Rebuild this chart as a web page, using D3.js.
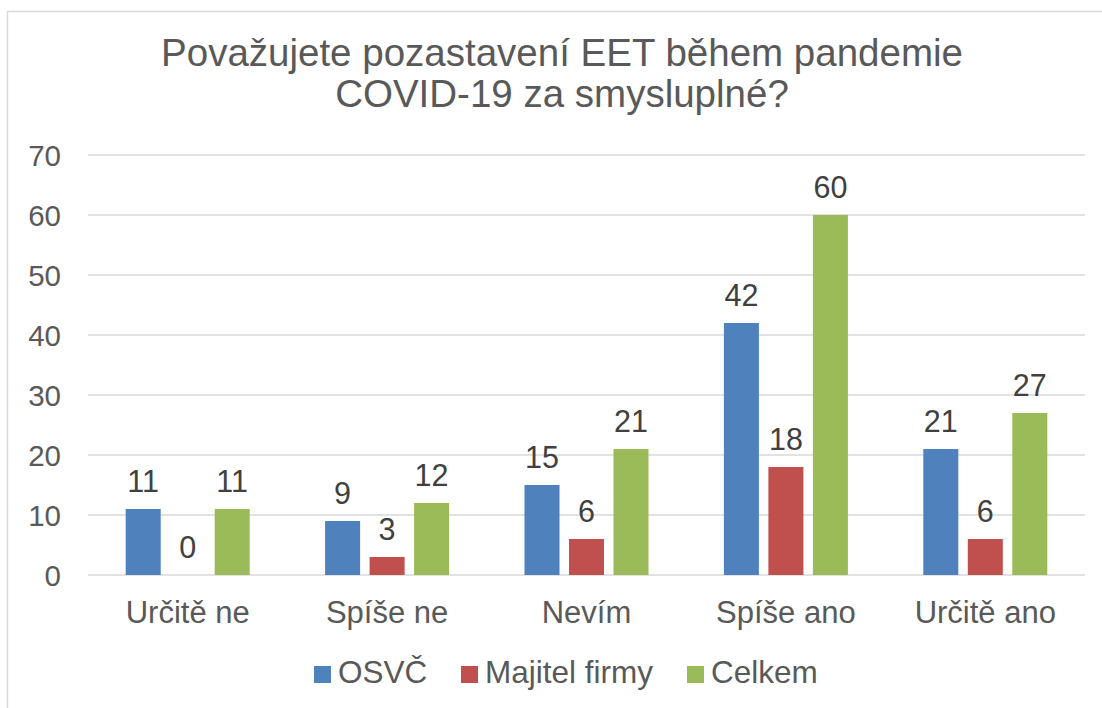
<!DOCTYPE html>
<html>
<head>
<meta charset="utf-8">
<script src="https://cdn.jsdelivr.net/npm/d3@7"></script>
<style>
  body { margin: 0; background: #fff; }
  text { font-family: "Liberation Sans", Arial, sans-serif; }
</style>
</head>
<body>
<script>
// ---------------------- DATA ----------------------

const categories = ["Určitě ne", "Spíše ne", "Nevím", "Spíše ano", "Určitě ano"];
const seriesNames = ["OSVČ", "Majitel firmy", "Celkem"];
const osvc = [11, 9, 15, 42, 21];
const majitel = [0, 3, 6, 18, 6];
const celkem = [11, 12, 21, 60, 27];
const yTicks = [0, 10, 20, 30, 40, 50, 60, 70];
const titleLines = ["Považujete pozastavení EET během pandemie", "COVID-19 za smysluplné?"];

const seriesValues = [osvc, majitel, celkem];
const colors = ["#4F81BD", "#C0504D", "#9BBB59"];

// ---------------------- LAYOUT ----------------------

const width = 1102, height = 708;
const plot = { left: 88, right: 1085, top: 155, bottom: 575 };

const svg = d3.select("body").append("svg")
    .attr("width", width)
    .attr("height", height);

// chart frame (runs off the right / bottom edge like the original)
svg.append("rect")
    .attr("x", 7.5).attr("y", 11.5)
    .attr("width", 1200).attr("height", 800)
    .attr("fill", "#fff")
    .attr("stroke", "#D9D9D9")
    .attr("stroke-width", 1.5);

const x0 = d3.scaleBand()
    .domain(categories)
    .range([plot.left, plot.right]);

const groupHalf = 66.75;
const x1 = d3.scaleBand()
    .domain(seriesNames)
    .range([x0.bandwidth() / 2 - groupHalf, x0.bandwidth() / 2 + groupHalf])
    .paddingInner(0.213)
    .paddingOuter(0.1065);

const y = d3.scaleLinear()
    .domain([0, 70])
    .range([plot.bottom, plot.top]);

// ---------------------- TITLE ----------------------

svg.append("g").selectAll("text")
    .data(titleLines)
    .enter().append("text")
    .attr("x", 562)
    .attr("y", (d, i) => 66 + i * 41)
    .attr("text-anchor", "middle")
    .attr("font-size", 38.5)
    .attr("fill", "#595959")
    .text(d => d);

// ---------------------- GRID + Y AXIS ----------------------

svg.append("g").selectAll("line")
    .data(yTicks)
    .enter().append("line")
    .attr("x1", plot.left).attr("x2", plot.right)
    .attr("y1", d => y(d)).attr("y2", d => y(d))
    .attr("stroke", "#D9D9D9")
    .attr("stroke-width", 1.5);

svg.append("g").selectAll("text")
    .data(yTicks)
    .enter().append("text")
    .attr("x", 61)
    .attr("y", d => y(d))
    .attr("dy", "0.36em")
    .attr("text-anchor", "end")
    .attr("font-size", 29.5)
    .attr("fill", "#595959")
    .text(d => d);

// ---------------------- BARS ----------------------

const groups = svg.append("g").selectAll("g")
    .data(categories)
    .enter().append("g")
    .attr("transform", d => `translate(${x0(d)},0)`);

groups.selectAll("rect")
    .data((d, ci) => seriesNames.map((s, si) => ({ s, si, v: seriesValues[si][ci] })))
    .enter().append("rect")
    .attr("x", d => x1(d.s))
    .attr("width", x1.bandwidth())
    .attr("y", d => y(d.v))
    .attr("height", d => y(0) - y(d.v))
    .attr("fill", d => colors[d.si]);

// data labels
groups.selectAll("text")
    .data((d, ci) => seriesNames.map((s, si) => ({ s, si, v: seriesValues[si][ci] })))
    .enter().append("text")
    .attr("x", d => x1(d.s) + x1.bandwidth() / 2)
    .attr("y", d => y(d.v) - 17)
    .attr("text-anchor", "middle")
    .attr("font-size", 30.5)
    .attr("fill", "#404040")
    .text(d => d.v);

// category labels
svg.append("g").selectAll("text")
    .data(categories)
    .enter().append("text")
    .attr("x", d => x0(d) + x0.bandwidth() / 2)
    .attr("y", 623)
    .attr("text-anchor", "middle")
    .attr("font-size", 31)
    .attr("fill", "#595959")
    .text(d => d);

// ---------------------- LEGEND ----------------------

const legendX = [314, 461, 687];
const legend = svg.append("g").selectAll("g")
    .data(seriesNames)
    .enter().append("g")
    .attr("transform", (d, i) => `translate(${legendX[i]},666)`);

legend.append("rect")
    .attr("width", 17).attr("height", 17)
    .attr("fill", (d, i) => colors[i]);

legend.append("text")
    .attr("x", 24)
    .attr("y", 17)
    .attr("font-size", 31.5)
    .attr("fill", "#595959")
    .text(d => d);
</script>
</body>
</html>
